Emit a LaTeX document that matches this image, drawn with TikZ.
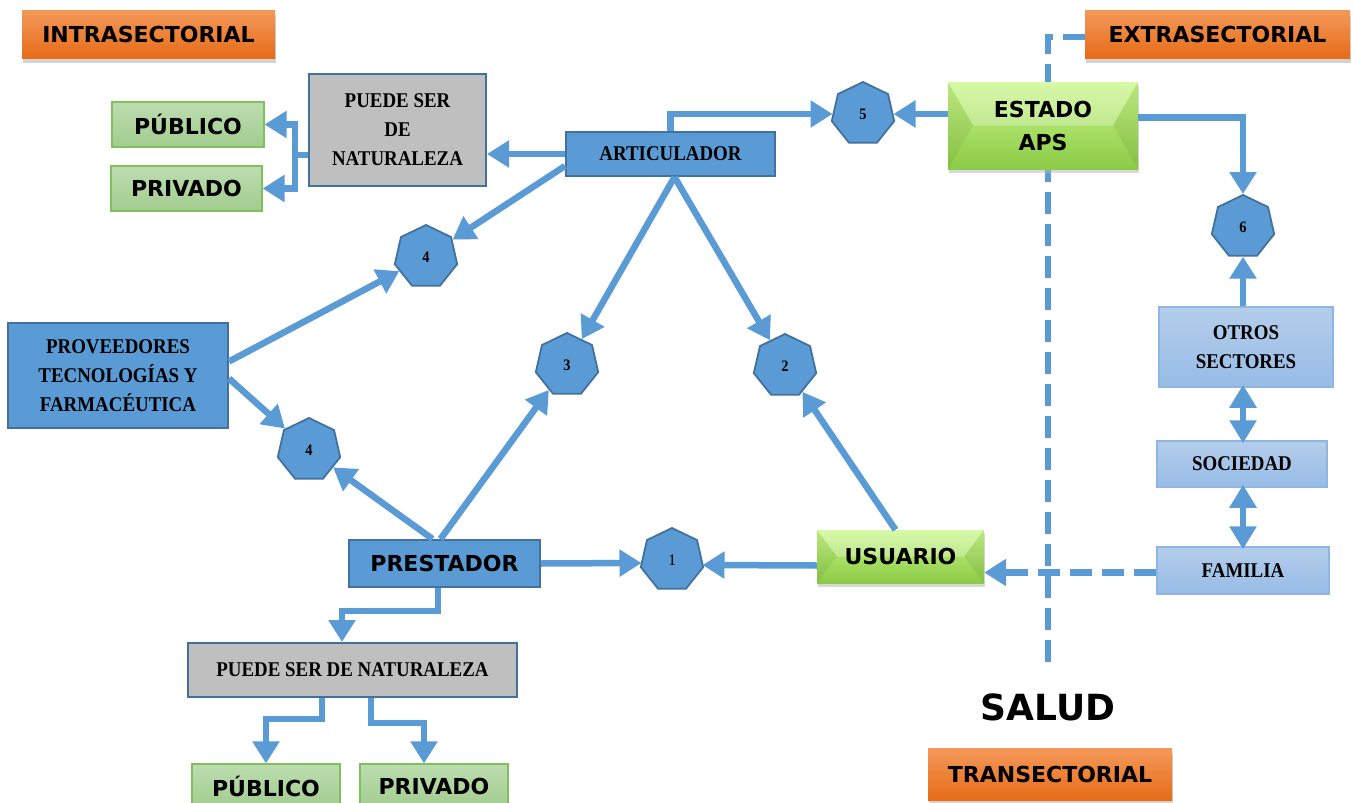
\documentclass[tikz,border=0pt]{standalone}
\usepackage{fontspec}
\newfontfamily\blk{DejaVu Sans}[UprightFont={* Bold}]
\newfontfamily\srf{Liberation Serif}[UprightFont={* Bold}, FakeStretch=0.9]
\usetikzlibrary{arrows.meta,shapes.geometric,shadows,backgrounds}
\definecolor{ablue}{HTML}{5B9BD5}
\definecolor{dblue}{HTML}{41719C}
\definecolor{lblueT}{HTML}{B4CDEB}
\definecolor{lblueB}{HTML}{97BCE6}
\definecolor{lblueD}{HTML}{8FB5E2}
\definecolor{orT}{HTML}{F4995A}
\definecolor{orB}{HTML}{E66C18}
\definecolor{gT}{HTML}{BCDDB0}
\definecolor{gB}{HTML}{A2CC8E}
\definecolor{gD}{HTML}{7FBF5C}
\definecolor{vT}{HTML}{C8F787}
\definecolor{vB}{HTML}{8CCB47}
\definecolor{gryfill}{HTML}{BFBFBF}
\tikzset{
  box/.style={inner sep=0pt, align=center},
  srffont/.style={font=\srf\fontsize{21}{29}\selectfont},
  blkfont/.style={font=\blk\fontsize{22}{33}\selectfont},
  orng/.style={box, top color=orT, bottom color=orB, blkfont,
    drop shadow={shadow xshift=1pt, shadow yshift=-5pt, fill=black!35}},
  blu/.style={box, fill=ablue, draw=dblue, line width=2pt, srffont},
  grybox/.style={box, fill=gryfill, draw=dblue, line width=2pt, srffont},
  lbl/.style={box, top color=lblueT, bottom color=lblueB, draw=lblueD, line width=1.5pt, srffont},
  grn/.style={box, top color=gT, bottom color=gB, draw=gD, line width=1.2pt, blkfont},
  bevel/.style={path picture={
    \fill[white,opacity=.28] (path picture bounding box.north west) -- (path picture bounding box.north east)
      -- ([xshift=-#1]path picture bounding box.east) -- ([xshift=#1]path picture bounding box.west) -- cycle;
    \fill[black,opacity=.06] (path picture bounding box.north west) -- ([xshift=#1]path picture bounding box.west)
      -- (path picture bounding box.south west) -- cycle;
    \fill[black,opacity=.06] (path picture bounding box.north east) -- ([xshift=-#1]path picture bounding box.east)
      -- (path picture bounding box.south east) -- cycle;}},
  vrd/.style={box, top color=vT, bottom color=vB, blkfont, bevel=#1,
    drop shadow={shadow xshift=1pt, shadow yshift=-4pt, fill=black!30}},
  hept/.style={regular polygon, regular polygon sides=7, minimum size=64pt, inner sep=0pt,
    fill=ablue, draw=dblue, line width=1.8pt, font=\srf\fontsize{16}{16}\selectfont},
  arr/.style={draw=ablue, line width=6.5pt, -{Triangle[length=22pt,width=26pt]}},
  darr/.style={draw=ablue, line width=6.5pt, {Triangle[length=23pt,width=26pt]}-{Triangle[length=23pt,width=26pt]}},
  dsh/.style={draw=ablue, line width=6.5pt, dash pattern=on 22pt off 10pt},
}
\begin{document}
\begin{tikzpicture}[x=1pt,y=-1pt]
\path[use as bounding box] (0,0) rectangle (1353,803);

% orange labels
\node[orng, minimum width=253pt, minimum height=48pt] (intra) at (148.5,34) {INTRASECTORIAL};
\node[orng, minimum width=265pt, minimum height=48pt] (extra) at (1217.5,34) {EXTRASECTORIAL};
\node[orng, minimum width=244pt, minimum height=52pt] (trans) at (1050,774) {TRANSECTORIAL};
\node[font=\blk\fontsize{36}{36}\selectfont] (salud) at (1048,707) {SALUD};

% boxes
\node[grybox, minimum width=177pt, minimum height=112pt] (psn1) at (397.5,130) {PUEDE SER\\DE\\NATURALEZA};
\node[grn, minimum width=152pt, minimum height=45pt] (pub1) at (188,124.5) {PÚBLICO};
\node[grn, minimum width=151pt, minimum height=45pt] (priv1) at (186.5,188.5) {PRIVADO};
\node[blu, minimum width=209pt, minimum height=44pt] (art) at (670.5,154) {ARTICULADOR};
\node[vrd=25pt, minimum width=190pt, minimum height=87pt] (estado) at (1043,125.5) {ESTADO\\APS};
\node[lbl, minimum width=174pt, minimum height=80pt] (otros) at (1246,347) {OTROS\\SECTORES};
\node[lbl, minimum width=170pt, minimum height=46pt] (soc) at (1242,464) {SOCIEDAD};
\node[lbl, minimum width=172pt, minimum height=47pt] (fam) at (1243,570.5) {FAMILIA};
\node[vrd=20pt, minimum width=167pt, minimum height=53pt] (usu) at (900.5,556.5) {USUARIO};
\node[blu, minimum width=220pt, minimum height=105pt] (prov) at (118,375.5) {PROVEEDORES\\TECNOLOGÍAS Y\\FARMACÉUTICA};
\node[blu, blkfont, minimum width=191pt, minimum height=47pt] (prest) at (444.5,563.5) {PRESTADOR};
\node[grybox, minimum width=329pt, minimum height=54pt] (psn2) at (352.5,670) {PUEDE SER DE NATURALEZA};
\node[grn, minimum width=148pt, minimum height=45pt] (pub2) at (266,786.5) {PÚBLICO};
\node[grn, minimum width=148pt, minimum height=45pt] (priv2) at (434,786.5) {PRIVADO};

% heptagons
\node[hept, font=\fontspec{Liberation Serif}\fontsize{16}{16}\selectfont] (h1) at (672,560) {1};
\node[hept] (h2) at (785,366) {2};
\node[hept] (h3) at (567,365) {3};
\node[hept] (h4a) at (426,257) {4};
\node[hept] (h4b) at (309,450) {4};
\node[hept] (h5) at (863,114) {5};
\node[hept] (h6) at (1243,227) {6};

% dashed divider
\coordinate (dtop) at (1048,37);
\coordinate (dbot) at (1048,665);
\begin{pgfonlayer}{background}
\fill[white] (0,0) rectangle (1353,803);
\draw[dsh] (extra.west |- dtop) -- (dtop) -- (dbot);
\end{pgfonlayer}

% connectors
\coordinate (fw) at ([yshift=-2pt]fam.west);
\draw[arr] (art.north) |- (h5.west);
\draw[arr] (estado.west |- h5.east) -- (h5.east);
\draw[arr] ([yshift=8pt]estado.east) -| (h6.north);
\draw[arr] (h6.south |- otros.north) -- (h6.south);
\draw[darr] ([yshift=-3pt]soc.north -| h6) -- ([yshift=3pt]otros.south -| h6);
\draw[darr] ([yshift=-3pt]fam.north -| h6) -- ([yshift=3pt]soc.south -| h6);
\draw[dsh, -{Triangle[length=22pt,width=26pt]}] (fw) -- (usu.east |- fw);
\draw[arr] ([yshift=-9pt]usu.west) -- ([yshift=-5pt]h1.east);
\draw[arr] (prest.east) -- ([yshift=-3pt]h1.west);
\draw[arr] ([xshift=-5pt]usu.north) -- (h2);
\draw[arr] ([xshift=4pt]art.south) -- (h2);
\draw[arr] ([xshift=4pt]art.south) -- (h3);
\draw[arr] ([xshift=-4pt]prest.north) -- (h3);
\draw[arr] ([xshift=-12pt]prest.north) -- (h4b);
\draw[arr] ([yshift=-3pt]prov.east) -- (h4b);
\draw[arr] ([yshift=14pt]prov.east) -- (h4a);
\draw[arr] ([yshift=-12pt]art.west) -- (h4a);
\draw[arr] (art.west) -- (psn1.east |- art.west);
\draw[arr] ([yshift=-25pt]psn1.west) -- ++(-13,0) |- (pub1.east);
\draw[arr] ([yshift=-25pt]psn1.west) -- ++(-13,0) |- (priv1.east);
\draw[arr] ([xshift=-6.5pt]prest.south) -- ++(0,23) -| ([xshift=-10.5pt]psn2.north);
\draw[arr] ([xshift=-30.5pt]psn2.south) -- ++(0,21) -| (pub2.north);
\draw[arr] ([xshift=18.5pt]psn2.south) -- ++(0,25) -| ([xshift=-10pt]priv2.north);
\end{tikzpicture}
\end{document}
